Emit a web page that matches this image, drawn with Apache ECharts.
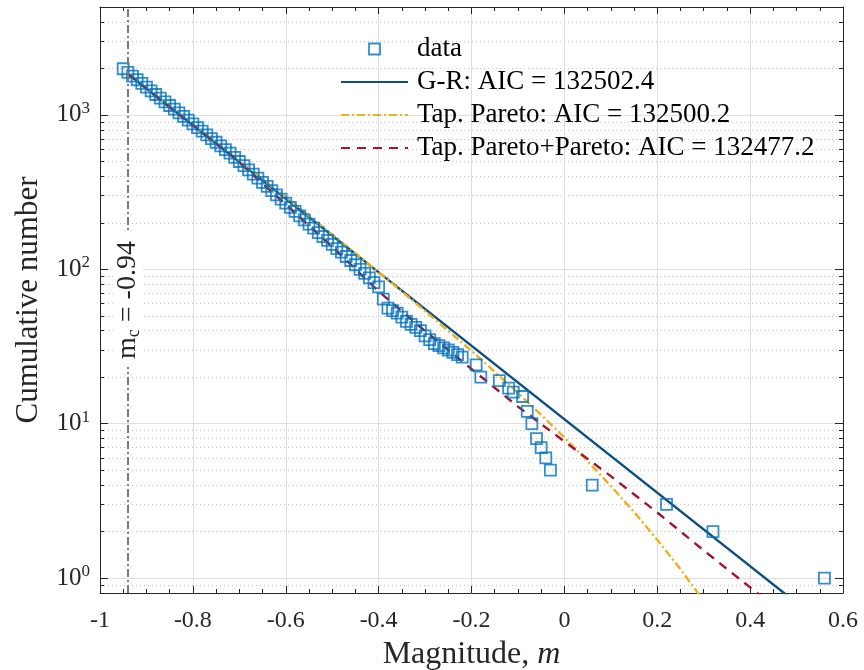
<!DOCTYPE html>
<html><head><meta charset="utf-8">
<script src="https://cdn.jsdelivr.net/npm/echarts@6/dist/echarts.min.js"></script>
<style>html,body{margin:0;padding:0;background:#fff}#c{width:864px;height:670px}</style>
</head><body><div id="c"></div>
<script>
// ---- data ----
const dataMags = [-0.95,-0.94,-0.93,-0.92,-0.91,-0.90,-0.89,-0.88,-0.87,-0.86,-0.85,-0.84,-0.83,-0.82,-0.81,-0.80,-0.79,-0.78,-0.77,-0.76,-0.75,-0.74,-0.73,-0.72,-0.71,-0.70,-0.69,-0.68,-0.67,-0.66,-0.65,-0.64,-0.63,-0.62,-0.61,-0.60,-0.59,-0.58,-0.57,-0.56,-0.55,-0.54,-0.53,-0.52,-0.51,-0.50,-0.49,-0.48,-0.47,-0.46,-0.45,-0.44,-0.43,-0.42,-0.41,-0.40,-0.39,-0.38,-0.37,-0.36,-0.35,-0.34,-0.33,-0.32,-0.31,-0.30,-0.29,-0.28,-0.27,-0.26,-0.25,-0.24,-0.23,-0.22,-0.19,-0.18,-0.14,-0.12,-0.11,-0.09,-0.08,-0.07,-0.06,-0.05,-0.04,-0.03,0.06,0.22,0.32,0.56];
const dataCounts = [1990,1884,1782,1689,1599,1514,1432,1356,1284,1216,1151,1089,1031,977,925,875,828,784,743,703,665,630,596,565,531,499,469,441,414,389,366,344,323,303,285,268,252,237,222,209,196,185,173,163,154,145,136,129,121,114,107,100,94,88,82,77,64,56,54,52,49,46,44,42,40,37,35,33,32,31,30,29,28,27,24,20,19,17,16,15,12,10,8,7,6,5,4,3,2,1];

const grMags = [-0.94, 0.50];
const grCounts = [1845, 0.69];

const tpMags = [-0.94,-0.8,-0.7,-0.6,-0.5,-0.4,-0.3,-0.2,-0.15,-0.1,-0.05,0,0.05,0.1,0.15,0.2,0.25,0.3];
const tpCounts = [1845,869,505,293,168,95.8,53.7,29.6,21.7,15.8,11.4,8.13,5.71,3.95,2.68,1.77,1.14,0.71];

const tppMags = [-0.94,-0.85,-0.72,-0.6,-0.5,-0.4,-0.3,-0.2,-0.1,0,0.1,0.2,0.3,0.4,0.45];
const tppCounts = [1845,1122,556,263,140,72,39.8,22.6,12.9,7.67,4.57,2.66,1.51,0.87,0.66];

const mc = -0.94;
const xTicks = {min: -1, max: 0.6, interval: 0.2};
const yMajorCounts = [1, 10, 100, 1000];
const yMinorCounts = [0.9,2,3,4,5,6,7,8,9,20,30,40,50,60,70,80,90,200,300,400,500,600,700,800,900,2000,3000,4000];
const yRange = [0.8, 5000];

const names = ['data','G-R: AIC = 132502.4','Tap. Pareto: AIC = 132500.2','Tap. Pareto+Pareto: AIC = 132477.2'];

// ---- build ----
const L = Math.log10;
const pairs = (ms, cs) => ms.map((m, i) => [m, L(cs[i])]);
const yMin = L(yRange[0]), yMax = L(yRange[1]);
const yMajor = yMajorCounts.map(L);
const yMinor = yMinorCounts.map(L);
const FONT = 'Liberation Serif';
const AX = '#262626';
const lineOnly = {color: 'rgba(0,0,0,0)', borderColor: 'rgba(0,0,0,0)', borderWidth: 0};

const xBase = {
  type: 'value', min: xTicks.min, max: xTicks.max, interval: xTicks.interval,
  axisLine: {show: true, onZero: false, lineStyle: {color: AX, width: 1}},
  axisTick: {show: true, inside: true, length: 7, lineStyle: {color: AX}},
  minorTick: {show: true, splitNumber: 4, length: 4, lineStyle: {color: AX}},
};
const yBase = {type: 'value', min: yMin, max: yMax};

const option = {
  animation: false,
  backgroundColor: '#fff',
  grid: {left: 100, top: 7, right: 21, bottom: 77, containLabel: false, outerBoundsMode: 'none'},
  legend: {
    orient: 'vertical', left: 335, top: 29, itemWidth: 67, itemHeight: 11, itemGap: 3,
    selectedMode: false,
    textStyle: {fontFamily: FONT, fontSize: 27, color: '#000', lineHeight: 30, padding: [0, 0, 0, 4]},
    data: [
      {name: names[0], icon: 'path://M0,0L10,0L10,10L0,10Z',
       itemStyle: {color: 'rgba(0,0,0,0)', borderColor: '#0072BD', borderWidth: 1.8}},
      {name: names[1], itemStyle: lineOnly},
      {name: names[2], itemStyle: lineOnly},
      {name: names[3], itemStyle: lineOnly}
    ]
  },
  xAxis: [
    Object.assign({}, xBase, {
      position: 'bottom',
      splitLine: {show: true, lineStyle: {color: '#dedede', width: 1}},
      axisLabel: {fontFamily: FONT, fontSize: 24, color: AX, margin: 16},
      name: '{n|Magnitude, }{i|m}', nameLocation: 'middle', nameGap: 46,
      nameTextStyle: {rich: {n: {fontFamily: FONT, fontSize: 32, color: AX}, i: {fontFamily: FONT, fontSize: 32, fontStyle: 'italic', color: AX}}}
    }),
    Object.assign({}, xBase, {position: 'top', axisLabel: {show: false}, splitLine: {show: false}})
  ],
  yAxis: [
    Object.assign({}, yBase, {
      position: 'left',
      axisLine: {show: true, onZero: false, lineStyle: {color: AX, width: 1}},
      axisTick: {show: true, inside: true, length: 8, customValues: yMajor, lineStyle: {color: AX}},
      axisLabel: {
        customValues: yMajor, margin: 10,
        formatter: v => '{b|10}{s|' + Math.round(v) + '}',
        rich: {
          b: {fontFamily: FONT, fontSize: 25, color: AX, lineHeight: 30},
          s: {fontFamily: FONT, fontSize: 17, color: AX, lineHeight: 16, verticalAlign: 'top'}
        }
      },
      splitLine: {show: true, lineStyle: {color: '#dedede', width: 1}},
      name: 'Cumulative number', nameLocation: 'middle', nameGap: 56,
      nameTextStyle: {fontFamily: FONT, fontSize: 31, color: AX}
    }),
    Object.assign({}, yBase, {
      position: 'left',
      axisLine: {show: false, onZero: false},
      axisTick: {show: true, inside: true, length: 4, customValues: yMinor, lineStyle: {color: AX}},
      axisLabel: {show: false},
      splitLine: {show: true, lineStyle: {color: '#c4c4c4', width: 1, type: [1, 3]}}
    }),
    Object.assign({}, yBase, {
      position: 'right',
      axisLine: {show: true, onZero: false, lineStyle: {color: AX, width: 1}},
      axisTick: {show: true, inside: true, length: 8, customValues: yMajor, lineStyle: {color: AX}},
      axisLabel: {show: false}, splitLine: {show: false}
    }),
    Object.assign({}, yBase, {
      position: 'right',
      axisLine: {show: false, onZero: false},
      axisTick: {show: true, inside: true, length: 4, customValues: yMinor, lineStyle: {color: AX}},
      axisLabel: {show: false}, splitLine: {show: false}
    })
  ],
  series: [
    {
      name: names[0], type: 'scatter', data: pairs(dataMags, dataCounts),
      symbol: 'rect', symbolSize: 11, z: 3,
      itemStyle: {color: 'rgba(0,0,0,0)', borderColor: '#0072BD', borderWidth: 1.8},
      markLine: {
        silent: true, symbol: 'none', animation: false,
        lineStyle: {color: '#7a7a7a', width: 2, type: [8, 3, 2, 3]},
        label: {
          show: true, position: 'middle', distance: 0, verticalAlign: 'middle',
          backgroundColor: '#fff', padding: [0, 8],
          formatter: '{n|m}{c|c}{n| = -0.94}',
          rich: {
            n: {fontFamily: FONT, fontSize: 28, color: AX, lineHeight: 30},
            c: {fontFamily: FONT, fontSize: 18, color: AX, lineHeight: 18, verticalAlign: 'bottom'}
          }
        },
        data: [[{coord: [mc, yMin]}, {coord: [mc, yMax]}]]
      }
    },
    {
      name: names[1], type: 'line', data: pairs(grMags, grCounts), symbol: 'none', z: 2,
      lineStyle: {color: '#0b4f80', width: 2.4, type: 'solid'}, itemStyle: {color: '#0b4f80'}
    },
    {
      name: names[2], type: 'line', data: pairs(tpMags, tpCounts), symbol: 'none', z: 2,
      lineStyle: {color: '#EDB120', width: 2.4, type: [8, 3, 2, 3]}, itemStyle: {color: '#EDB120'}
    },
    {
      name: names[3], type: 'line', data: pairs(tppMags, tppCounts), symbol: 'none', z: 2,
      lineStyle: {color: '#A2142F', width: 2.4, type: [9, 7]}, itemStyle: {color: '#A2142F'}
    }
  ]
};
const chart = echarts.init(document.getElementById('c'), null, {renderer: 'canvas'});
chart.setOption(option);
</script>
</body></html>
